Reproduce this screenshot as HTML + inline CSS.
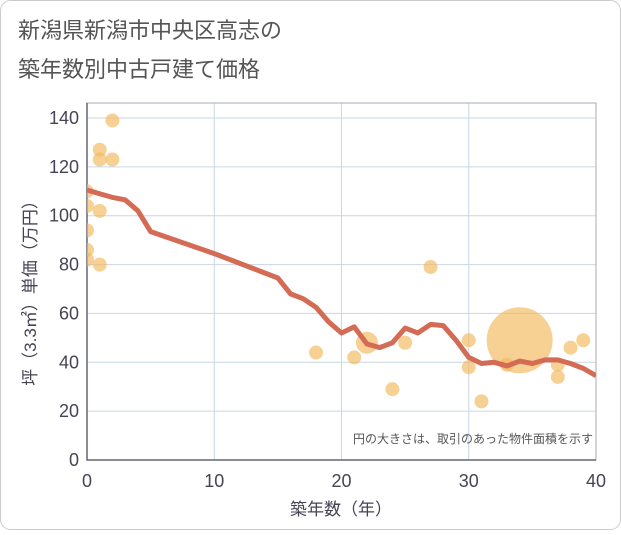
<!DOCTYPE html>
<html><head><meta charset="utf-8"><style>
body{margin:0;background:#fff;}
svg text{font-family:"Liberation Sans","Noto Sans CJK JP",sans-serif;}
</style></head><body>
<svg width="621" height="530">
<defs><clipPath id="pc"><rect x="87" y="103" width="509" height="357"/></clipPath></defs>
<rect x="0.5" y="0.5" width="620" height="529" rx="10" fill="#fff" stroke="#ccc"/>
<text x="18" y="38" font-size="22" fill="#555">新潟県新潟市中央区高志の</text>
<text x="18" y="77" font-size="22" fill="#555">築年数別中古戸建て価格</text>
<g id="grid"></g>
<g id="marks" clip-path="url(#pc)"></g>
<text x="593" y="443" font-size="12" fill="#555" text-anchor="end">円の大きさは、取引のあった物件面積を示す</text>
<text x="341" y="515" font-size="17" fill="#445" text-anchor="middle">築年数（年）</text>
<text transform="translate(36,289) rotate(-90)" font-size="17" fill="#445" text-anchor="middle">坪（3.3㎡）単価（万円）</text>
</svg>
<script>
const xTicks=[0,10,20,30,40];
const yTicks=[0,20,40,60,80,100,120,140];
const ptX=[0,0,0,0,0,1,1,1,1,2,2,18,21,22,24,25,27,30,30,31,33,34,37,37,38,39];
const ptY=[110,104,94,86,82,127,123,102,80,139,123,44,42,48,29,48,79,49,38,24,39,49,39,34,46,49];
const ptR=[7,7,7,7,7,7,7,7,7,7,7,7,7,11,7,7,7,7,7,7,7,33,7,7,7,7];
const lineX=[0,1,2,3,4,5,10,15,16,17,18,19,20,21,22,23,24,25,26,27,28,29,30,31,32,33,34,35,36,37,38,39,40];
const lineY=[110.5,109,107.5,106.5,102,93.5,84.5,74.5,68,66,62.5,56.5,52,54.5,47.5,46,48,54,52,55.5,55,49,42,39.5,40,38.5,40.5,39.5,41,41,39.5,37.5,34.5];
const X0=87,X1=596,Y0=460,Y1=118,TOP=103;
const sx=v=>X0+(X1-X0)*v/40, sy=v=>Y0-(Y0-Y1)*v/140;
const NS='http://www.w3.org/2000/svg';
function mk(t,a,p){const e=document.createElementNS(NS,t);for(const k in a)e.setAttribute(k,a[k]);p.appendChild(e);return e;}
const g=document.getElementById('grid'),m=document.getElementById('marks');
xTicks.forEach(t=>{const l=mk('line',{x1:sx(t),x2:sx(t),y1:TOP,y2:Y0,stroke:'#c9d6e3','stroke-width':1},g);

const tx=mk('text',{x:sx(t),y:Y0+27,'font-size':18,fill:'#445','text-anchor':'middle'},g);tx.textContent=t;
});
yTicks.forEach(t=>{const l=mk('line',{x1:X0,x2:X1,y1:sy(t),y2:sy(t),stroke:'#c9d6e3','stroke-width':1},g);

const tx=mk('text',{x:X0-8,y:sy(t)+6,'font-size':18,fill:'#445','text-anchor':'end'},g);tx.textContent=t;
});
const fr=mk('rect',{x:X0,y:TOP,width:X1-X0,height:Y0-TOP,fill:'none',stroke:'#aab','stroke-width':1},g);

const ax=mk('path',{d:`M${X0},${TOP}V${Y0}H${X1}`,fill:'none',stroke:'#667','stroke-width':1.5},g);

ptX.forEach((v,i)=>{const c=mk('circle',{cx:sx(v),cy:sy(ptY[i]),r:ptR[i],fill:'#f2b85a','fill-opacity':0.65},m);
});
const p=mk('polyline',{points:lineX.map((v,i)=>sx(v)+','+sy(lineY[i])).join(' '),fill:'none',stroke:'#d36b55','stroke-width':5,'stroke-linejoin':'round'},m);

</script>
</body></html>
